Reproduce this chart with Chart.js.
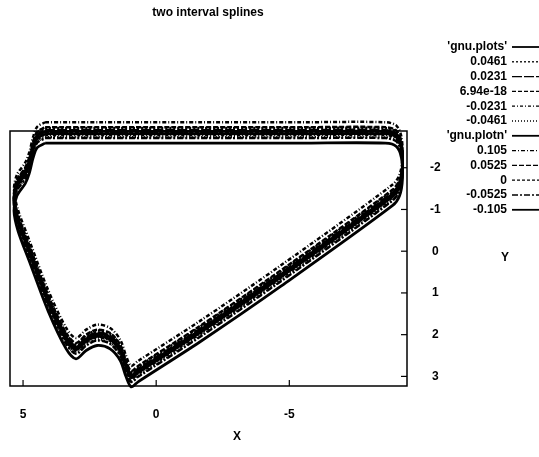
<!DOCTYPE html>
<html>
<head>
<meta charset="utf-8">
<script src="https://cdn.jsdelivr.net/npm/chart.js@4/dist/chart.umd.min.js"></script>
<style>
  html, body { margin: 0; padding: 0; background: #fff; }
  #wrap { width: 539px; height: 457px; }
</style>
</head>
<body>
<div id="wrap"><canvas id="myChart" width="539" height="457"></canvas></div>
<script>
// ticks
const xTickValues = [5, 0, -5];
const yTickValues = [-2, -1, 0, 1, 2, 3];

// outline of the curve, X is shared by every line
const pathX = [4.17, 2.11, -1.65, -5.41, -8.61, -9.02, -9.21, -9.25, -9.14, -8.87, -4.66, -1.65, 0.68, 0.94, 1.13, 1.35, 1.73, 2.22, 2.63, 3.01, 3.38, 4.06, 4.77, 5.19, 5.34, 5.23, 4.92, 4.77, 4.62, 4.47, 4.17];

// Y of each line (they sit one above another)
const plotsY = [-2.87, -2.87, -2.87, -2.87, -2.87, -2.79, -2.52, -2.02, -1.61, -1.37, 0.57, 1.89, 2.85, 2.97, 2.73, 2.34, 2.06, 1.98, 2.10, 2.30, 2.06, 1.15, -0.05, -0.77, -1.25, -1.61, -1.90, -2.14, -2.52, -2.76, -2.87];
const s0461Y = [-2.95, -2.95, -2.95, -2.95, -2.95, -2.87, -2.60, -2.10, -1.69, -1.45, 0.49, 1.81, 2.77, 2.89, 2.65, 2.26, 1.98, 1.90, 2.02, 2.22, 1.98, 1.07, -0.13, -0.85, -1.33, -1.69, -1.98, -2.22, -2.60, -2.84, -2.95];
const s0231Y = [-2.90, -2.90, -2.90, -2.90, -2.90, -2.82, -2.55, -2.05, -1.64, -1.40, 0.54, 1.86, 2.82, 2.94, 2.70, 2.31, 2.03, 1.95, 2.07, 2.27, 2.03, 1.12, -0.08, -0.80, -1.28, -1.64, -1.93, -2.17, -2.55, -2.79, -2.90];
const s0000Y = [-2.84, -2.84, -2.84, -2.84, -2.84, -2.76, -2.49, -1.99, -1.58, -1.34, 0.60, 1.92, 2.88, 3.00, 2.76, 2.37, 2.09, 2.01, 2.13, 2.33, 2.09, 1.18, -0.02, -0.74, -1.22, -1.58, -1.87, -2.11, -2.49, -2.73, -2.84];
const sm0231Y = [-2.78, -2.78, -2.78, -2.78, -2.78, -2.70, -2.43, -1.93, -1.52, -1.28, 0.66, 1.98, 2.94, 3.06, 2.82, 2.43, 2.15, 2.07, 2.19, 2.39, 2.15, 1.24, 0.04, -0.68, -1.16, -1.52, -1.81, -2.05, -2.43, -2.67, -2.78];
const sm0461Y = [-2.73, -2.73, -2.73, -2.73, -2.73, -2.65, -2.38, -1.88, -1.47, -1.23, 0.71, 2.03, 2.99, 3.11, 2.87, 2.48, 2.20, 2.12, 2.24, 2.44, 2.20, 1.29, 0.09, -0.63, -1.11, -1.47, -1.76, -2.00, -2.38, -2.62, -2.73];
const plotnY = [-2.81, -2.81, -2.81, -2.81, -2.81, -2.73, -2.46, -1.96, -1.55, -1.31, 0.63, 1.95, 2.91, 3.03, 2.79, 2.40, 2.12, 2.04, 2.16, 2.36, 2.12, 1.21, 0.01, -0.71, -1.19, -1.55, -1.84, -2.08, -2.46, -2.70, -2.81];
const n105Y = [-3.09, -3.09, -3.09, -3.09, -3.09, -3.01, -2.74, -2.24, -1.83, -1.59, 0.35, 1.67, 2.63, 2.75, 2.51, 2.12, 1.84, 1.76, 1.88, 2.08, 1.84, 0.93, -0.27, -0.99, -1.47, -1.83, -2.12, -2.36, -2.74, -2.98, -3.09];
const n0525Y = [-2.97, -2.97, -2.97, -2.97, -2.97, -2.89, -2.62, -2.12, -1.71, -1.47, 0.47, 1.79, 2.75, 2.87, 2.63, 2.24, 1.96, 1.88, 2.00, 2.20, 1.96, 1.05, -0.15, -0.87, -1.35, -1.71, -2.00, -2.24, -2.62, -2.86, -2.97];
const n0Y = [-2.84, -2.84, -2.84, -2.84, -2.84, -2.76, -2.49, -1.99, -1.58, -1.34, 0.60, 1.92, 2.88, 3.00, 2.76, 2.37, 2.09, 2.01, 2.13, 2.33, 2.09, 1.18, -0.02, -0.74, -1.22, -1.58, -1.87, -2.11, -2.49, -2.73, -2.84];
const nm0525Y = [-2.71, -2.71, -2.71, -2.71, -2.71, -2.63, -2.36, -1.86, -1.45, -1.21, 0.73, 2.05, 3.01, 3.13, 2.89, 2.50, 2.22, 2.14, 2.26, 2.46, 2.22, 1.31, 0.11, -0.61, -1.09, -1.45, -1.74, -1.98, -2.36, -2.60, -2.71];
const nm105Y = [-2.59, -2.59, -2.59, -2.59, -2.59, -2.51, -2.24, -1.74, -1.33, -1.09, 0.85, 2.17, 3.13, 3.25, 3.01, 2.62, 2.34, 2.26, 2.38, 2.58, 2.34, 1.43, 0.23, -0.49, -0.97, -1.33, -1.62, -1.86, -2.24, -2.48, -2.59];

const seriesNames = ["'gnu.plots'", '0.0461', '0.0231', '6.94e-18', '-0.0231', '-0.0461',
                     "'gnu.plotn'", '0.105', '0.0525', '0', '-0.0525', '-0.105'];
const seriesY = [plotsY, s0461Y, s0231Y, s0000Y, sm0231Y, sm0461Y,
                 plotnY, n105Y, n0525Y, n0Y, nm0525Y, nm105Y];

// line styles, same order
const dashes = [[], [2, 2], [10, 2], [4, 2], [3, 2, 1, 2], [1, 2],
                [], [4, 2, 1, 2], [5, 2], [3, 2], [6, 2, 2, 2], []];

const FONT = "'Liberation Sans', Arial, sans-serif";

const makePoints = (ys) => {
  let pts = [];
  for (let i = 0; i < pathX.length; i++) {
    pts.push({ x: pathX[i], y: ys[i] });
  }
  return pts;
};

const datasets = seriesNames.map((name, i) => ({
  label: name,
  data: makePoints(seriesY[i]),
  showLine: true,
  borderColor: '#000',
  backgroundColor: '#000',
  borderWidth: dashes[i].length ? 2.5 : 2.8,
  borderDash: dashes[i],
  pointRadius: 0,
  tension: 0.3,
  clip: false,
}));

// box, inward ticks, title, axis names and the key
const gnuFrame = {
  id: 'gnuFrame',
  afterDraw(chart) {
    const ctx = chart.ctx;
    const a = chart.chartArea;
    const xs = chart.scales.x;
    const ys = chart.scales.y;
    ctx.save();
    ctx.strokeStyle = '#000';
    ctx.lineWidth = 1.5;
    ctx.setLineDash([]);
    ctx.strokeRect(a.left, a.top, a.right - a.left, a.bottom - a.top);

    ctx.lineWidth = 1.2;
    xTickValues.forEach((v) => {
      const px = xs.getPixelForValue(v);
      ctx.beginPath();
      ctx.moveTo(px, a.bottom);
      ctx.lineTo(px, a.bottom - 6);
      ctx.stroke();
    });
    yTickValues.forEach((v) => {
      const py = ys.getPixelForValue(v);
      ctx.beginPath();
      ctx.moveTo(a.right, py);
      ctx.lineTo(a.right - 6, py);
      ctx.stroke();
    });

    ctx.fillStyle = '#000';
    ctx.textBaseline = 'middle';
    ctx.textAlign = 'center';
    ctx.font = 'bold 12px ' + FONT;
    ctx.fillText('two interval splines', 208, 13);
    ctx.fillText('X', 237, 437);
    ctx.fillText('Y', 505, 258);

    // key
    ctx.textAlign = 'right';
    chart.data.datasets.forEach((ds, i) => {
      const y = 47 + i * 14.8;
      ctx.fillText(ds.label, 507, y);
      ctx.beginPath();
      ctx.lineWidth = ds.borderDash.length ? 1.3 : 1.8;
      ctx.setLineDash(ds.borderDash);
      ctx.moveTo(512, y);
      ctx.lineTo(539, y);
      ctx.stroke();
    });
    ctx.restore();
  },
};

const config = {
  type: 'scatter',
  data: { datasets: datasets },
  options: {
    responsive: false,
    animation: false,
    layout: { padding: { left: 10, top: 131, right: 0, bottom: 0 } },
    plugins: {
      legend: { display: false },
      title: { display: false },
      tooltip: { enabled: false },
    },
    scales: {
      x: {
        type: 'linear',
        position: 'bottom',
        reverse: true,
        min: -9.42,
        max: 5.49,
        grid: { display: false },
        border: { display: false },
        afterBuildTicks: (s) => { s.ticks = xTickValues.map((v) => ({ value: v })); },
        afterFit: (s) => { s.height = 71; },
        ticks: {
          color: '#000',
          padding: 13,
          maxRotation: 0,
          font: { family: FONT, size: 12, weight: 'bold' },
        },
      },
      y: {
        type: 'linear',
        position: 'right',
        reverse: true,
        min: -2.88,
        max: 3.23,
        grid: { display: false },
        border: { display: false },
        afterBuildTicks: (s) => { s.ticks = yTickValues.map((v) => ({ value: v })); },
        afterFit: (s) => { s.width = 132; },
        ticks: {
          color: '#000',
          padding: 15,
          crossAlign: 'center',
          font: { family: FONT, size: 12, weight: 'bold' },
        },
      },
    },
  },
  plugins: [gnuFrame],
};

const chart = new Chart(document.getElementById('myChart'), config);
</script>
</body>
</html>
